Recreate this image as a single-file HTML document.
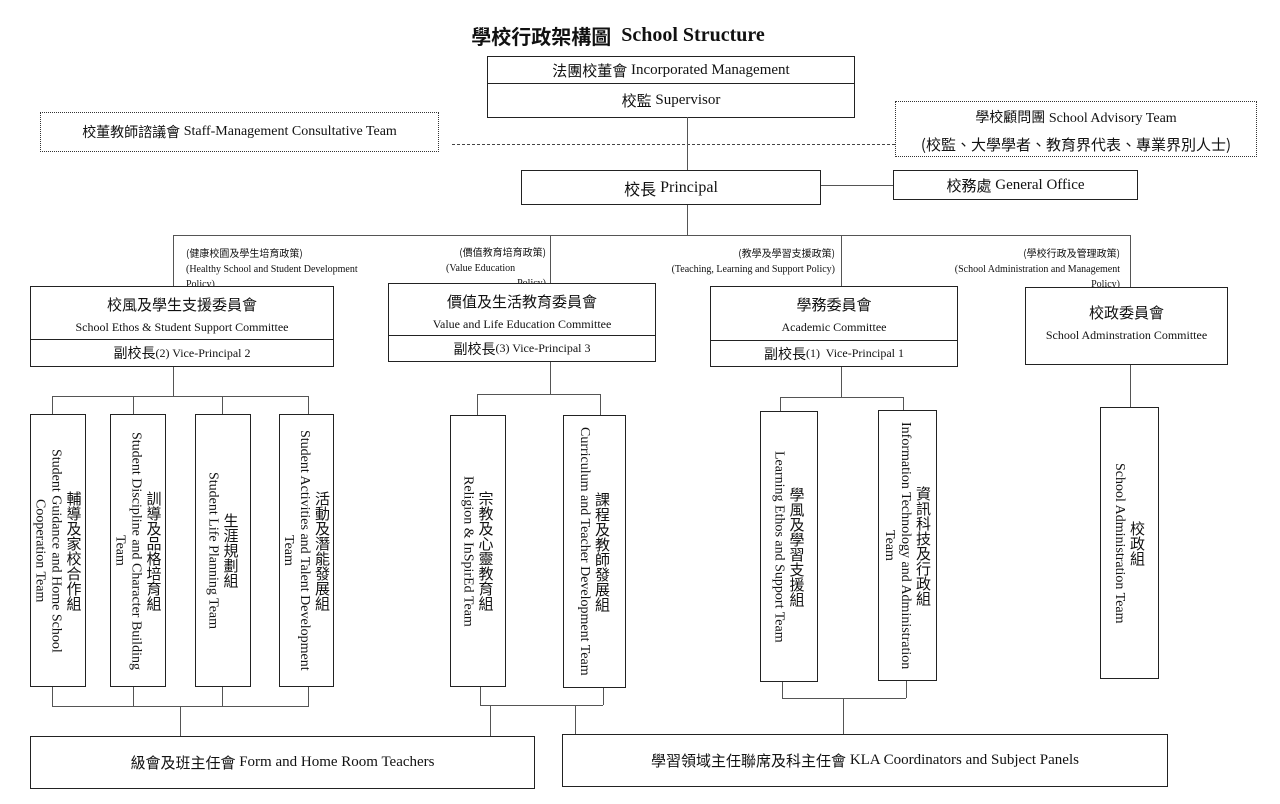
<!DOCTYPE html>
<html><head><meta charset="utf-8">
<style>
body{margin:0;width:1280px;height:804px;background:#fff;position:relative;overflow:hidden;font-family:"Liberation Serif","Noto Sans CJK TC",serif;color:#111}
.a{position:absolute;box-sizing:border-box}
.b{position:absolute;box-sizing:border-box;border:1.5px solid #222;background:#fff}
.d{position:absolute;box-sizing:border-box;border:1.5px dotted #333;background:#fff}
.h{position:absolute;height:0;border-top:1px solid #555}
.v{position:absolute;width:0;border-left:1px solid #555}
.c{font-family:"Noto Sans CJK TC","Noto Sans CJK SC",sans-serif}
.ctr{display:flex;align-items:center;justify-content:center;text-align:center}
.pol{position:absolute;font-size:10px;line-height:15px;white-space:nowrap}
.pol .c{font-size:10px}
.vt{writing-mode:vertical-rl;display:flex;flex-direction:column;align-items:center;justify-content:center;font-size:14px;line-height:16px}
.vt .c{font-size:15px;line-height:21px;white-space:nowrap}
.vt span{display:block;text-align:center;max-height:255px}
</style></head><body>

<div class="a ctr" style="left:400px;top:20px;width:436px;height:30px;font-size:20px;font-weight:bold"><span class="c" style="font-weight:bold">學校行政架構圖</span>&nbsp; School Structure</div>

<div class="b" style="left:487px;top:56px;width:368px;height:62px"></div>
<div class="h" style="left:487px;top:83px;width:368px;border-top:1.5px solid #222"></div>
<div class="a ctr" style="left:487px;top:57px;width:368px;height:26px;font-size:15px"><span class="c">法團校董會</span>&nbsp;Incorporated Management</div>
<div class="a ctr" style="left:487px;top:85px;width:368px;height:31px;font-size:15px"><span class="c">校監</span>&nbsp;Supervisor</div>

<div class="d ctr" style="left:40px;top:112px;width:399px;height:40px;font-size:14px"><span class="c">校董教師諮議會</span>&nbsp;Staff-Management Consultative Team</div>
<div class="d" style="left:895px;top:101px;width:362px;height:56px;font-size:14px;text-align:center;line-height:26px;padding-top:2px"><span class="c">學校顧問團</span> School Advisory Team<br><span class="c" style="font-size:15px">(校監、大學學者、教育界代表、專業界別人士)</span></div>
<div class="h" style="left:452px;top:144px;width:443px;border-top:1px dashed #444"></div>

<div class="v" style="left:687px;top:117px;height:53px"></div>
<div class="b ctr" style="left:521px;top:170px;width:300px;height:35px;font-size:16px"><span class="c">校長</span>&nbsp;Principal</div>
<div class="h" style="left:821px;top:185px;width:72px"></div>
<div class="b ctr" style="left:893px;top:170px;width:245px;height:30px;font-size:15px"><span class="c">校務處</span>&nbsp;General Office</div>
<div class="v" style="left:687px;top:205px;height:30px"></div>
<div class="h" style="left:173px;top:235px;width:958px"></div>
<div class="v" style="left:173px;top:235px;height:52px"></div>
<div class="v" style="left:550px;top:235px;height:49px"></div>
<div class="v" style="left:841px;top:235px;height:52px"></div>
<div class="v" style="left:1130px;top:235px;height:52px"></div>

<div class="pol" style="left:186px;top:245px"><span class="c">(健康校園及學生培育政策)</span><br>(Healthy School and Student Development<br>Policy)</div>
<div class="pol" style="left:446px;top:244px;text-align:right;width:100px"><span class="c">(價值教育培育政策)</span><br><span style="display:block;text-align:left">(Value Education</span>Policy)</div>
<div class="pol" style="left:635px;top:245px;width:200px;text-align:right"><span class="c">(教學及學習支援政策)</span><br>(Teaching, Learning and Support Policy)</div>
<div class="pol" style="left:900px;top:245px;width:220px;text-align:right"><span class="c">(學校行政及管理政策)</span><br>(School Administration and Management<br>Policy)</div>

<div class="b" style="left:30px;top:286px;width:304px;height:81px"><div class="a" style="left:0;top:0;width:100%;height:52px;text-align:center;padding-top:7px;line-height:21px;font-size:12px"><span class="c" style="font-size:15px">校風及學生支援委員會</span><br>School Ethos &amp; Student Support Committee</div><div class="h" style="left:0;top:52px;width:100%;border-top:1.5px solid #222"></div><div class="a ctr" style="left:0;top:53px;width:100%;height:26px;font-size:12px"><span class="c" style="font-size:14px">副校長</span>(2) Vice-Principal 2</div></div>
<div class="b" style="left:388px;top:283px;width:268px;height:79px"><div class="a" style="left:0;top:0;width:100%;height:52px;text-align:center;padding-top:7px;line-height:21px;font-size:12px"><span class="c" style="font-size:15px">價值及生活教育委員會</span><br>Value and Life Education Committee</div><div class="h" style="left:0;top:51px;width:100%;border-top:1.5px solid #222"></div><div class="a ctr" style="left:0;top:52px;width:100%;height:25px;font-size:12px"><span class="c" style="font-size:14px">副校長</span>(3) Vice-Principal 3</div></div>
<div class="b" style="left:710px;top:286px;width:248px;height:81px"><div class="a" style="left:0;top:0;width:100%;height:53px;text-align:center;padding-top:7px;line-height:21px;font-size:12px"><span class="c" style="font-size:15px">學務委員會</span><br>Academic Committee</div><div class="h" style="left:0;top:53px;width:100%;border-top:1.5px solid #222"></div><div class="a ctr" style="left:0;top:54px;width:100%;height:25px;font-size:12px"><span class="c" style="font-size:14px">副校長</span>(1)&nbsp; Vice-Principal 1</div></div>
<div class="b" style="left:1025px;top:287px;width:203px;height:78px;text-align:center;padding-top:14px;line-height:21px;font-size:12px"><span class="c" style="font-size:15px">校政委員會</span><br>School Adminstration Committee</div>

<div class="v" style="left:173px;top:367px;height:29px"></div>
<div class="h" style="left:52px;top:396px;width:257px"></div>
<div class="v" style="left:52px;top:396px;height:18px"></div>
<div class="v" style="left:133px;top:396px;height:18px"></div>
<div class="v" style="left:222px;top:396px;height:18px"></div>
<div class="v" style="left:308px;top:396px;height:18px"></div>

<div class="v" style="left:550px;top:362px;height:33px"></div>
<div class="h" style="left:477px;top:394px;width:123px"></div>
<div class="v" style="left:477px;top:394px;height:21px"></div>
<div class="v" style="left:600px;top:394px;height:21px"></div>

<div class="v" style="left:841px;top:367px;height:30px"></div>
<div class="h" style="left:780px;top:397px;width:123px"></div>
<div class="v" style="left:780px;top:397px;height:14px"></div>
<div class="v" style="left:903px;top:397px;height:13px"></div>

<div class="v" style="left:1130px;top:365px;height:42px"></div>

<div class="b vt" style="left:30px;top:414px;width:56px;height:273px"><span class="c">輔導及家校合作組</span><span>Student Guidance and Home School Cooperation Team</span></div>
<div class="b vt" style="left:110px;top:414px;width:56px;height:273px"><span class="c">訓導及品格培育組</span><span>Student Discipline and Character Building Team</span></div>
<div class="b vt" style="left:195px;top:414px;width:56px;height:273px"><span class="c">生涯規劃組</span><span>Student Life Planning Team</span></div>
<div class="b vt" style="left:279px;top:414px;width:55px;height:273px"><span class="c">活動及潛能發展組</span><span>Student Activities and Talent Development Team</span></div>
<div class="b vt" style="left:450px;top:415px;width:56px;height:272px"><span class="c">宗教及心靈教育組</span><span>Religion &amp; InSpirEd Team</span></div>
<div class="b vt" style="left:563px;top:415px;width:63px;height:273px"><span class="c">課程及教師發展組</span><span>Curriculum and Teacher Development Team</span></div>
<div class="b vt" style="left:760px;top:411px;width:58px;height:271px"><span class="c">學風及學習支援組</span><span>Learning Ethos and Support Team</span></div>
<div class="b vt" style="left:878px;top:410px;width:59px;height:271px"><span class="c">資訊科技及行政組</span><span>Information Technology and Administration Team</span></div>
<div class="b vt" style="left:1100px;top:407px;width:59px;height:272px"><span class="c">校政組</span><span>School Administration Team</span></div>

<div class="v" style="left:52px;top:687px;height:19px"></div>
<div class="v" style="left:133px;top:687px;height:19px"></div>
<div class="v" style="left:222px;top:687px;height:19px"></div>
<div class="v" style="left:308px;top:687px;height:19px"></div>
<div class="h" style="left:52px;top:706px;width:257px"></div>
<div class="v" style="left:180px;top:706px;height:30px"></div>

<div class="v" style="left:480px;top:687px;height:18px"></div>
<div class="v" style="left:603px;top:688px;height:17px"></div>
<div class="h" style="left:480px;top:705px;width:123px"></div>
<div class="v" style="left:490px;top:705px;height:31px"></div>
<div class="v" style="left:575px;top:705px;height:29px"></div>

<div class="v" style="left:782px;top:682px;height:16px"></div>
<div class="v" style="left:906px;top:681px;height:17px"></div>
<div class="h" style="left:782px;top:698px;width:124px"></div>
<div class="v" style="left:843px;top:698px;height:36px"></div>

<div class="b ctr" style="left:30px;top:736px;width:505px;height:53px;font-size:15px"><span class="c">級會及班主任會</span>&nbsp;Form and Home Room Teachers</div>
<div class="b ctr" style="left:562px;top:734px;width:606px;height:53px;font-size:15px"><span class="c">學習領域主任聯席及科主任會</span>&nbsp;KLA Coordinators and Subject Panels</div>

</body></html>
